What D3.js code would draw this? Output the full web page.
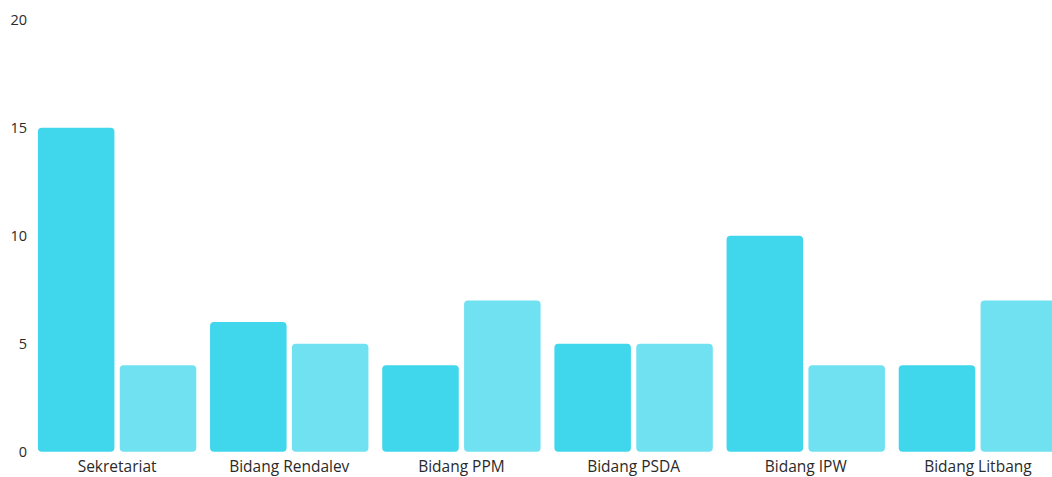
<!DOCTYPE html>
<html>
<head>
<meta charset="utf-8">
<script src="https://cdn.jsdelivr.net/npm/d3@7"></script>
<style>
  html, body { margin: 0; padding: 0; background: #fff; }
  svg { display: block; }
  text { font-family: "Open Sans", "Noto Sans", sans-serif; fill: #2a2a2a; }
</style>
</head>
<body>
<svg id="chart" width="1052" height="477"></svg>
<script>
// Units per division
const categories = ["Sekretariat", "Bidang Rendalev", "Bidang PPM", "Bidang PSDA", "Bidang IPW", "Bidang Litbang"];
const seriesA = [15, 6, 4, 5, 10, 4];
const seriesB = [4, 5, 7, 5, 4, 7];
const yTicks = [0, 5, 10, 15, 20];
const seriesColors = ["#40d6ec", "#70e1f1"];

const svg = d3.select("#chart");

const y = d3.scaleLinear().domain([0, 20]).range([451.7, 19.7]);

const x0 = d3.scaleBand()
  .domain(categories)
  .range([31, 1064])
  .paddingInner(0.08)
  .paddingOuter(0.04);

const x1 = d3.scaleBand()
  .domain([0, 1])
  .range([0, x0.bandwidth()])
  .paddingInner(0.065)
  .paddingOuter(0);

const rows = categories.map((c, i) => ({ cat: c, vals: [seriesA[i], seriesB[i]] }));

const groups = svg.append("g").selectAll("g")
  .data(rows)
  .join("g")
  .attr("transform", d => `translate(${x0(d.cat)},0)`);

groups.selectAll("rect")
  .data(d => d.vals.map((v, k) => ({ k, v })))
  .join("rect")
  .attr("x", d => x1(d.k))
  .attr("y", d => y(d.v))
  .attr("width", x1.bandwidth())
  .attr("height", d => y(0) - y(d.v))
  .attr("rx", 4)
  .attr("fill", d => seriesColors[d.k]);

// Y axis labels
const yAxis = d3.axisLeft(y).tickValues(yTicks).tickSize(0).tickPadding(0);
const yg = svg.append("g").attr("transform", "translate(27,0)").call(yAxis);
yg.select(".domain").remove();
yg.selectAll("text")
  .attr("font-size", 14.5)
  .attr("font-family", "\"Open Sans\", \"Noto Sans\", sans-serif")
  .attr("fill", "#2a2a2a");

// X axis labels
const xAxis = d3.axisBottom(x0).tickSize(0).tickPadding(0);
const xg = svg.append("g").attr("transform", `translate(0,${y(0) + 9})`).call(xAxis);
xg.select(".domain").remove();
xg.selectAll("text")
  .attr("font-size", 15.5)
  .attr("font-family", "\"Open Sans\", \"Noto Sans\", sans-serif")
  .attr("fill", "#2a2a2a");
</script>
</body>
</html>
